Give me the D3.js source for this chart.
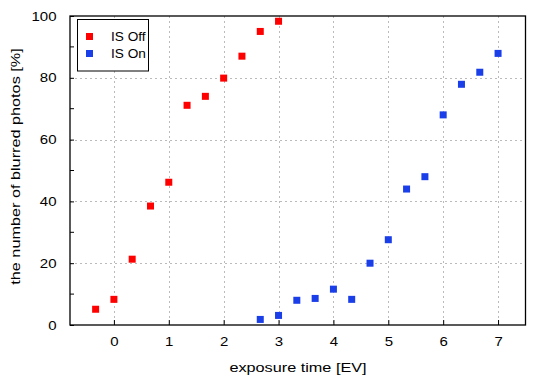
<!DOCTYPE html>
<html>
<head>
<meta charset="utf-8">
<script src="https://cdn.jsdelivr.net/npm/d3@7"></script>
<style>
  body { margin: 0; background: #fff; }
  text { font-family: "Liberation Sans", Arial, sans-serif; }
</style>
</head>
<body>
<svg width="550" height="380"></svg>
<script>
// exposure time (EV) and blurred percentage
var offX = [-0.333, 0, 0.333, 0.667, 1, 1.333, 1.667, 2, 2.333, 2.667, 3];
var offY = [5.1, 8.3, 21.3, 38.5, 46.2, 71.1, 74.0, 79.9, 87.0, 95.0, 98.3];
var onX  = [2.667, 3, 3.333, 3.667, 4, 4.333, 4.667, 5, 5.333, 5.667, 6, 6.333, 6.667, 7];
var onY  = [1.8, 3.1, 8.0, 8.6, 11.6, 8.3, 20.0, 27.6, 44.0, 48.0, 68.0, 77.9, 81.8, 87.9];
var xTicks = [0, 1, 2, 3, 4, 5, 6, 7];
var yTicks = [0, 20, 40, 60, 80, 100];
var yMinor = [10, 30, 50, 70, 90];

var svg = d3.select("svg");
// plot box (avoid "top", it clashes with window.top)
var pLeft = 70, pRight = 525.5, pTop = 16, pBottom = 325;
var stretch = 1.2;   // the reference font is drawn wider than Arial

var x = d3.scaleLinear().domain([-0.8, 7.5]).range([pLeft, pRight]);
var y = d3.scaleLinear().domain([0, 100]).range([pBottom, pTop]);

// grid
svg.append("g").selectAll("line").data(xTicks).enter().append("line")
   .attr("x1", d => Math.round(x(d)) + 0.5).attr("x2", d => Math.round(x(d)) + 0.5)
   .attr("y1", pTop).attr("y2", pBottom)
   .attr("stroke", "#bbb").attr("stroke-dasharray", "2,3");
svg.append("g").selectAll("line").data(yTicks.slice(1, -1)).enter().append("line")
   .attr("x1", pLeft).attr("x2", pRight)
   .attr("y1", d => Math.round(y(d)) + 0.5).attr("y2", d => Math.round(y(d)) + 0.5)
   .attr("stroke", "#bbb").attr("stroke-dasharray", "2,3");

// axes, ticks pointing inward
var xAxis = d3.axisBottom(x).tickValues(xTicks).tickSizeInner(-5).tickSizeOuter(0).tickPadding(12);
var yAxis = d3.axisLeft(y).tickValues(yTicks).tickSizeInner(-4).tickSizeOuter(0).tickPadding(13.5);

var gx = svg.append("g").attr("transform", "translate(0," + pBottom + ")").call(xAxis);
var gy = svg.append("g").attr("transform", "translate(" + pLeft + ",0)").call(yAxis);
gy.selectAll(".minor").data(yMinor).enter().append("line")
   .attr("class", "minor")
   .attr("x1", 0).attr("x2", 4)
   .attr("y1", d => y(d)).attr("y2", d => y(d))
   .attr("stroke", "#000");
[gx, gy].forEach(function(g) {
  g.select(".domain").remove();
  g.selectAll("text").attr("font-size", 12.5).attr("fill", "#000")
   .attr("font-family", "Liberation Sans, Arial, sans-serif");
});
gy.selectAll(".tick text").attr("x", -13.5 / stretch).attr("transform", "scale(" + stretch + ",1)");
gx.selectAll(".tick text").attr("transform", "scale(" + stretch + ",1)");

// frame
svg.append("rect").attr("x", pLeft).attr("y", pTop)
   .attr("width", pRight - pLeft).attr("height", pBottom - pTop)
   .attr("fill", "none").attr("stroke", "#000").attr("stroke-width", 1.3);

// points
var sz = 7;
svg.append("g").selectAll("rect").data(d3.zip(offX, offY)).enter().append("rect")
   .attr("x", d => x(d[0]) - sz / 2).attr("y", d => y(d[1]) - sz / 2)
   .attr("width", sz).attr("height", sz).attr("fill", "#ff0000");
svg.append("g").selectAll("rect").data(d3.zip(onX, onY)).enter().append("rect")
   .attr("x", d => x(d[0]) - sz / 2).attr("y", d => y(d[1]) - sz / 2)
   .attr("width", sz).attr("height", sz).attr("fill", "#1a3ee8");

// legend
var leg = svg.append("g");
leg.append("rect").attr("x", 77.5).attr("y", 19.5).attr("width", 71).attr("height", 51.5)
   .attr("fill", "#fff").attr("stroke", "#000");
var series = [["IS Off", "#ff0000"], ["IS On", "#1a3ee8"]];
series.forEach(function(s, i) {
  leg.append("rect").attr("x", 86).attr("y", 33 + i * 17).attr("width", sz).attr("height", sz).attr("fill", s[1]);
  leg.append("text").attr("transform", "translate(111," + (41 + i * 17) + ") scale(1.05,1)")
     .attr("font-size", 13).text(s[0]);
});

// axis titles
svg.append("text").attr("transform", "translate(298,371.5) scale(1.25,1)")
   .attr("text-anchor", "middle").attr("font-size", 13).text("exposure time [EV]");
svg.append("text").attr("transform", "translate(19.5,166.5) rotate(-90) scale(1.25,1)")
   .attr("text-anchor", "middle").attr("font-size", 13).text("the number of blurred photos [%]");
</script>
</body>
</html>
